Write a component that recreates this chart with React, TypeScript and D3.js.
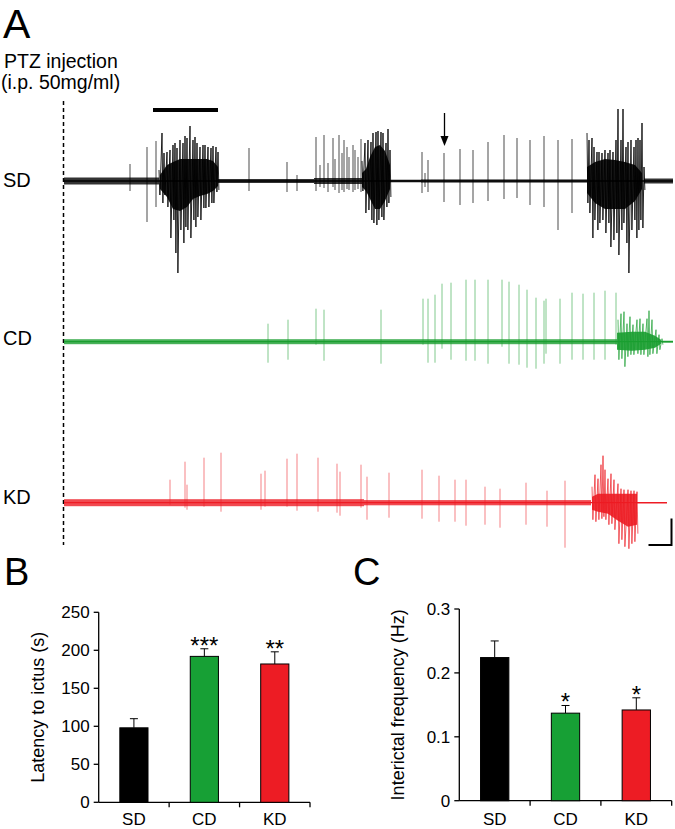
import * as d3 from 'd3';
import React from 'react';

type Spike = [number, number, number]; // time, up amplitude, down amplitude
type Band = [number, number, number]; // t0, t1, half width

// ---- panel A : EEG traces (time in px-units, amplitude in px-units) ----
const sdSpikes: Spike[] = [
  [66, 17, -10], [83, 34, -41], [92, 40, -26], [185, 33, -10], [223, 19, -11], [233, 6, -10],
  [252, 44, -10], [256, 16, -6], [260, 46, -7], [264, 18, -11], [269, 43, -6], [271, 22, -9],
  [275, 46, -12], [278, 28, -9], [280, 41, -11], [283, 34, -8], [285, 24, -9], [289, 36, -11],
  [291, 31, -9], [294, 24, -8], [297, 42, -11],
  [358, 29, -12], [361, 8, -6], [364, 21, -11], [380, 28, -21], [396, 32, -24], [409, 31, -22],
  [424, 39, -20], [440, 46, -18], [453, 43, -17], [466, 41, -24], [480, 45, -26], [494, 41, -49],
  [508, 42, -32],
];
const sdBursts: Spike[][] = [
  [[95, 11, -14], [98, 48, -22], [100, 28, -14], [103, 29, -26], [106, 31, -57], [109, 36, -39],
   [111, 38, -72], [113, 33, -92], [116, 41, -49], [119, 38, -62], [121, 45, -46], [123, 43, -49],
   [126, 55, -57], [129, 41, -39], [131, 44, -46], [133, 38, -36], [136, 34, -39], [139, 36, -27],
   [141, 36, -27], [144, 34, -26], [147, 33, -22], [149, 35, -22], [152, 34, -11], [154, 29, -9]],
  [[298, 20, -10], [301, 38, -32], [304, 41, -29], [307, 39, -39], [309, 48, -42], [312, 49, -44],
   [314, 50, -39], [317, 49, -36], [319, 48, -39], [322, 38, -26], [324, 52, -22], [326, 31, -16]],
  [[523, 48, -22], [525, 41, -32], [528, 43, -57], [530, 34, -39], [533, 29, -49], [535, 29, -42],
   [538, 28, -39], [541, 31, -52], [544, 28, -42], [546, 31, -66], [549, 29, -59], [552, 41, -52],
   [554, 72, -74], [557, 41, -49], [559, 72, -42], [562, 34, -62], [564, 39, -92], [567, 41, -49],
   [570, 34, -39], [572, 41, -57], [574, 43, -49], [576, 41, -39], [578, 58, -47], [580, 14, -9]],
];
const sdCores: Spike[][] = [
  [[96, 6, -8], [103, 16, -16], [109, 19, -28], [116, 22, -30], [123, 22, -26], [129, 22, -18],
   [136, 22, -15], [143, 22, -13], [149, 20, -10], [154, 14, -5]],
  [[298, 8, -6], [302, 12, -10], [306, 24, -18], [311, 34, -28], [316, 36, -28], [321, 30, -20], [326, 16, -8]],
  [[523, 14, -12], [531, 19, -22], [541, 22, -28], [551, 21, -28], [561, 19, -28], [571, 16, -20], [578, 8, -8]],
];
const sdNoise: Band[] = [[0, 95, 3.5], [154, 250, 2], [250, 298, 3], [326, 357, 1.3], [357, 523, 1.6], [580, 609, 2.5]];

const cdSpikes: Spike[] = [
  [204, 18, -21], [224, 22, -18], [252, 33, -3], [260, 32, -19], [317, 32, -22], [359, 43, -3],
  [364, 43, -21], [371, 47, -21], [378, 58, -7], [387, 59, -18], [402, 62, -19], [411, 62, -19],
  [424, 62, -22], [438, 62, -5], [445, 60, -22], [455, 57, -23], [463, 52, -26], [472, 44, -27],
  [480, 41, -22], [482, 43, -12], [496, 43, -22], [508, 49, -18], [519, 48, -18], [530, 49, -18],
  [541, 51, -18], [552, 49, -3],
];
const cdBursts: Spike[][] = [
  [[554, 22, -18], [557, 28, -17], [560, 30, -25], [563, 18, -15], [566, 25, -13], [569, 17, -13],
   [573, 22, -12], [576, 23, -13], [579, 18, -13], [583, 23, -15], [585, 31, -13], [588, 22, -12],
   [592, 12, -12], [595, 7, -8], [598, 3, -3]],
];
const cdCores: Spike[][] = [[[553, 9, -8], [568, 10, -9], [581, 10, -8], [591, 6, -6], [597, 2, -2]]];
const cdNoise: Band[] = [[0, 553, 2.5], [598, 609, 1]];

const kdSpikes: Spike[] = [
  [106, 23, -2], [121, 41, -5], [123, 18, -7], [140, 45, -4], [157, 50, -9], [197, 29, -7],
  [201, 32, -4], [223, 44, -4], [233, 49, -8], [254, 45, -9], [273, 39, -10], [276, 31, -13],
  [297, 38, -5], [303, 26, -17], [325, 30, -15], [358, 33, -16], [375, 27, -19], [391, 23, -19],
  [402, 23, -23], [421, 16, -22], [436, 14, -25], [462, 20, -22], [483, 12, -24], [501, 22, -45],
];
const kdBursts: Spike[][] = [
  [[528, 16, -17], [531, 28, -19], [534, 24, -17], [537, 38, -16], [539, 47, -14], [541, 33, -17],
   [544, 24, -22], [547, 29, -21], [550, 23, -27], [554, 19, -41], [557, 14, -37], [560, 13, -44],
   [564, 13, -46], [567, 12, -41], [570, 12, -39], [573, 11, -31]],
];
const kdCores: Spike[][] = [[[528, 6, -7], [534, 9, -9], [544, 9, -11], [554, 9, -18], [564, 9, -24], [573, 9, -22]]];
const kdNoise: Band[] = [[0, 300, 3.5], [300, 527, 2.6], [573, 603, 0.7]];

// ---- panels B and C ----
const groups = ['SD', 'CD', 'KD'];
const barColors = ['#000000', '#17a035', '#ed1c24'];
const latency = [98, 192, 182];
const latencyErr = [110, 202, 198];
const latencyStars = ['', '***', '**'];
const latencyTicks = [0, 50, 100, 150, 200, 250];
const freq = [0.224, 0.137, 0.142];
const freqErr = [0.250, 0.149, 0.161];
const freqStars = ['', '*', '*'];
const freqTicks = [0, 0.1, 0.2, 0.3];

const FONT = 'Liberation Sans, Arial, Helvetica, sans-serif';
const tx = d3.scaleLinear().domain([0, 609]).range([64, 673]);

interface TraceProps {
  base: number; color: string; spikes: Spike[]; bursts: Spike[][]; cores: Spike[][]; noise: Band[]; end: number;
  spikeOpacity: number; burstOpacity: number;
}

const Trace: React.FC<TraceProps> = ({base, color, spikes, bursts, cores, noise, end, spikeOpacity, burstOpacity}) => {
  const ay = d3.scaleLinear().domain([-100, 100]).range([base + 100, base - 100]);
  const zig = d3.line<[number, number]>().x(d => tx(d[0])).y(d => ay(d[1]));
  const core = d3.area<Spike>().x(d => tx(d[0])).y0(d => ay(d[2])).y1(d => ay(d[1]));
  return (
    <g>
      <line x1={tx(0)} x2={tx(end)} y1={ay(0)} y2={ay(0)} stroke={color} strokeWidth={1.3} />
      {noise.map((n, i) => (
        <rect key={'n' + i} x={tx(n[0])} width={tx(n[1]) - tx(n[0])} y={ay(n[2])} height={ay(-n[2]) - ay(n[2])}
          fill={color} opacity={0.8} />
      ))}
      {spikes.map((s, i) => (
        <line key={'s' + i} x1={tx(s[0])} x2={tx(s[0])} y1={ay(s[1])} y2={ay(s[2])}
          stroke={color} strokeWidth={1} opacity={spikeOpacity} />
      ))}
      {cores.map((c, i) => (
        <path key={'c' + i} d={core(c) || ''} fill={color} opacity={0.9} />
      ))}
      {bursts.map((b, i) => (
        <path key={'b' + i} d={zig(b.flatMap(s => [[s[0], s[1]], [s[0] + 0.9, s[2]]] as [number, number][])) || ''}
          fill="none" stroke={color} strokeWidth={1} opacity={burstOpacity} />
      ))}
    </g>
  );
};

interface BarProps {
  left: number; right: number; top: number; bottom: number; max: number; values: number[]; errs: number[];
  stars: string[]; ticks: number[]; fmt: (v: number) => string; label: string; letter: string; letterX: number;
}

const BarPanel: React.FC<BarProps> = p => {
  const x = d3.scaleBand<string>().domain(groups).range([p.left, p.right]).paddingInner(0.6).paddingOuter(0.3);
  const y = d3.scaleLinear().domain([0, p.max]).range([p.bottom, p.top]);
  const bw = x.bandwidth();
  const step = x.step();
  return (
    <g fontFamily={FONT}>
      <text x={p.letterX} y={585} fontSize={38}>{p.letter}</text>
      <line x1={p.left} x2={p.left} y1={y(p.max)} y2={p.bottom} stroke="#000" strokeWidth={1.3} />
      <line x1={p.left} x2={p.right} y1={p.bottom} y2={p.bottom} stroke="#000" strokeWidth={1.3} />
      {p.ticks.map(t => (
        <g key={t}>
          <line x1={p.left - 5} x2={p.left} y1={y(t)} y2={y(t)} stroke="#000" strokeWidth={1.3} />
          <text x={p.left - 9} y={y(t)} dy="0.35em" textAnchor="end" fontSize={17}>{p.fmt(t)}</text>
        </g>
      ))}
      {groups.map((g, i) => {
        const cx = (x(g) || 0) + bw / 2;
        return (
          <g key={g}>
            <line x1={cx + step / 2} x2={cx + step / 2} y1={p.bottom} y2={p.bottom + 5} stroke="#000" strokeWidth={1.3} />
            <line x1={cx} x2={cx} y1={y(p.values[i])} y2={y(p.errs[i])} stroke="#000" strokeWidth={1} />
            <line x1={cx - 4} x2={cx + 4} y1={y(p.errs[i])} y2={y(p.errs[i])} stroke="#000" strokeWidth={1} />
            <rect x={x(g)} y={y(p.values[i])} width={bw} height={p.bottom - y(p.values[i])}
              fill={barColors[i]} stroke="#000" strokeWidth={1} />
            <text x={cx} y={825} textAnchor="middle" fontSize={17}>{g}</text>
            {p.stars[i] && (
              <text x={cx} y={y(p.errs[i]) + 5} textAnchor="middle" fontSize={24}>{p.stars[i]}</text>
            )}
          </g>
        );
      })}
      <text transform={`translate(${p.left - 55},${(p.top + p.bottom) / 2}) rotate(-90)`} textAnchor="middle"
        fontSize={18}>{p.label}</text>
    </g>
  );
};

export default function App() {
  return (
    <div style={{position: 'absolute', left: 0, top: 0}}>
      <svg width={675} height={829} viewBox="0 0 675 829" style={{display: 'block', background: '#fff'}}>
        <g fontFamily={FONT}>
          <text x={3} y={37.5} fontSize={41}>A</text>
          <text x={4} y={68} fontSize={19.5}>PTZ injection</text>
          <text x={1} y={89} fontSize={19.5}>(i.p. 50mg/ml)</text>
          <text x={3} y={187} fontSize={20}>SD</text>
          <text x={3} y={345} fontSize={20}>CD</text>
          <text x={3} y={504} fontSize={20}>KD</text>
        </g>
        <line x1={63.5} x2={63.5} y1={101} y2={545} stroke="#000" strokeWidth={1.5} strokeDasharray="4,3" />
        <line x1={153} x2={218} y1={110} y2={110} stroke="#000" strokeWidth={4} />
        <line x1={444.5} x2={444.5} y1={113} y2={138} stroke="#000" strokeWidth={1.3} />
        <path d="M440.5,136 L448.5,136 L444.5,146 Z" fill="#000" />
        <Trace base={181} color="#000" spikes={sdSpikes} bursts={sdBursts} cores={sdCores} noise={sdNoise}
          end={609} spikeOpacity={0.7} burstOpacity={0.85} />
        <Trace base={341.7} color="#1a9e30" spikes={cdSpikes} bursts={cdBursts} cores={cdCores} noise={cdNoise}
          end={609} spikeOpacity={0.55} burstOpacity={0.7} />
        <Trace base={502.7} color="#ed1c24" spikes={kdSpikes} bursts={kdBursts} cores={kdCores} noise={kdNoise}
          end={603} spikeOpacity={0.55} burstOpacity={0.7} />
        <path d="M648.5,545 L671.5,545 L671.5,518.5" fill="none" stroke="#000" strokeWidth={2} />
        <BarPanel left={98.7} right={310} top={612.3} bottom={802.3} max={250} values={latency} errs={latencyErr}
          stars={latencyStars} ticks={latencyTicks} fmt={d3.format('d')} label="Latency to ictus (s)" letter="B" letterX={4} />
        <BarPanel left={459.3} right={671.7} top={609} bottom={800.7} max={0.3} values={freq} errs={freqErr}
          stars={freqStars} ticks={freqTicks} fmt={v => (v === 0 ? '0' : d3.format('.1f')(v))}
          label="Interictal frequency (Hz)" letter="C" letterX={353} />
      </svg>
    </div>
  );
}
